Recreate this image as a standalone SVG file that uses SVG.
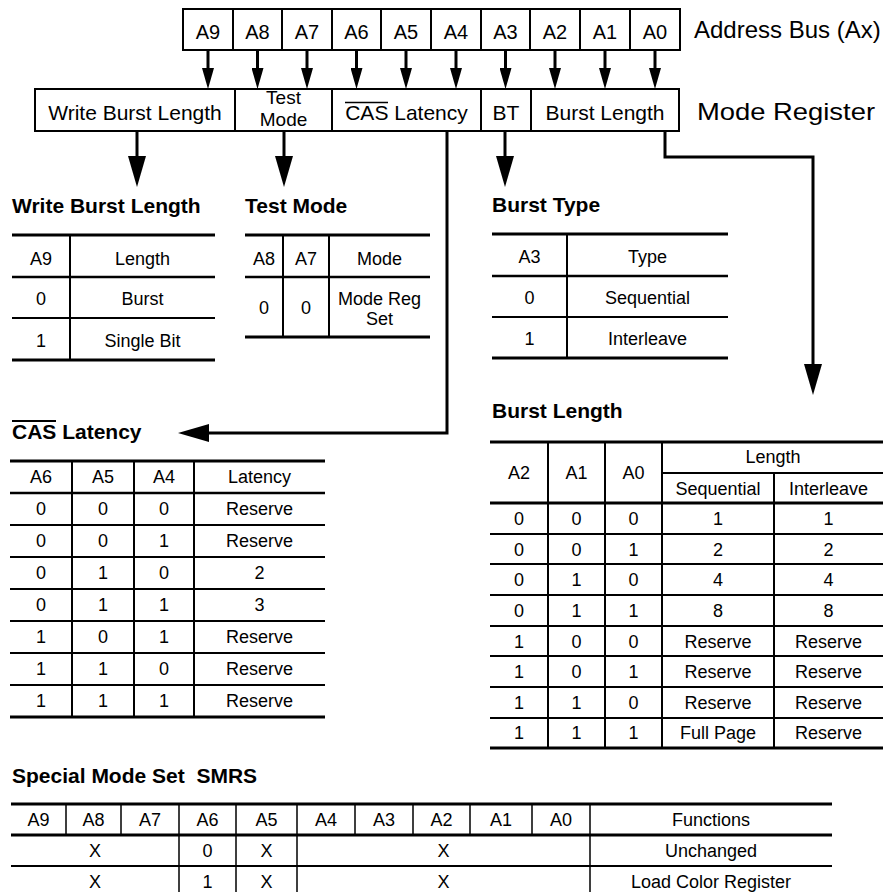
<svg xmlns="http://www.w3.org/2000/svg" width="883" height="892" viewBox="0 0 883 892">
<style>
text{font-family:"Liberation Sans",Arial,Helvetica,sans-serif;fill:#000}
.h{font-weight:bold;font-size:21px}
.c{font-size:18px;text-anchor:middle}
.b{font-size:20px;text-anchor:middle}
.m{font-size:21px;text-anchor:middle}
.m2{font-size:19px;text-anchor:middle}
.lbl{font-size:24px}
.box{fill:#fff;stroke:#000;stroke-width:2}
.k{stroke:#000;stroke-width:3;fill:none}
.md{stroke:#000;stroke-width:2.5;fill:none}
.n{stroke:#000;stroke-width:2;fill:none}
.v{stroke:#000;stroke-width:2;fill:none}
.vs{stroke:#000;stroke-width:1.5;fill:none}
.conn{stroke:#000;stroke-width:3;fill:none}
</style>
<defs>
<marker id="sm" markerUnits="userSpaceOnUse" markerWidth="21" markerHeight="12" refX="10" refY="6" orient="auto"><path d="M0,0 L21,6 L0,12 z" fill="#000"/></marker>
<marker id="bg" markerUnits="userSpaceOnUse" markerWidth="31" markerHeight="18" refX="16" refY="9" orient="auto"><path d="M0,0 L31,9 L0,18 z" fill="#000"/></marker>
</defs>
<rect width="883" height="892" fill="#fff"/>

<g id="address-bus">
<rect class="box" x="183" y="9" width="497" height="41"/>
<path class="n" d="M233,9V50M282,9V50M332,9V50M381,9V50M431,9V50M481,9V50M530,9V50M580,9V50M630,9V50"/>
<text class="b" x="208" y="39">A9</text>
<text class="b" x="257.5" y="39">A8</text>
<text class="b" x="307" y="39">A7</text>
<text class="b" x="356.5" y="39">A6</text>
<text class="b" x="406" y="39">A5</text>
<text class="b" x="456" y="39">A4</text>
<text class="b" x="505.5" y="39">A3</text>
<text class="b" x="555" y="39">A2</text>
<text class="b" x="605" y="39">A1</text>
<text class="b" x="655" y="39">A0</text>
<text class="lbl" x="694" y="38">Address Bus (Ax)</text>
</g>

<g id="mode-register">
<rect class="box" x="35" y="89" width="644" height="42"/>
<path class="n" d="M235,89V131M332,89V131M481,89V131M531,89V131"/>
<text class="m" x="135" y="120">Write Burst Length</text>
<text class="m2" x="283.5" y="104">Test</text>
<text class="m2" x="283.5" y="126">Mode</text>
<text class="m" x="406.5" y="120">CAS Latency</text>
<line x1="345" y1="102.5" x2="388" y2="102.5" stroke="#000" stroke-width="1.5"/>
<text class="m" x="506" y="120">BT</text>
<text class="m" x="605" y="120">Burst Length</text>
<text class="lbl" x="697" y="120" textLength="178" lengthAdjust="spacingAndGlyphs">Mode Register</text>
</g>

<g id="connectors">
<line class="conn" x1="208" y1="50" x2="208" y2="78" marker-end="url(#sm)"/>
<line class="conn" x1="257.5" y1="50" x2="257.5" y2="78" marker-end="url(#sm)"/>
<line class="conn" x1="307" y1="50" x2="307" y2="78" marker-end="url(#sm)"/>
<line class="conn" x1="356.5" y1="50" x2="356.5" y2="78" marker-end="url(#sm)"/>
<line class="conn" x1="406" y1="50" x2="406" y2="78" marker-end="url(#sm)"/>
<line class="conn" x1="456" y1="50" x2="456" y2="78" marker-end="url(#sm)"/>
<line class="conn" x1="505.5" y1="50" x2="505.5" y2="78" marker-end="url(#sm)"/>
<line class="conn" x1="555" y1="50" x2="555" y2="78" marker-end="url(#sm)"/>
<line class="conn" x1="605" y1="50" x2="605" y2="78" marker-end="url(#sm)"/>
<line class="conn" x1="655" y1="50" x2="655" y2="78" marker-end="url(#sm)"/>
<line class="conn" x1="137" y1="131" x2="137" y2="172" marker-end="url(#bg)"/>
<line class="conn" x1="284" y1="131" x2="284" y2="172" marker-end="url(#bg)"/>
<line class="conn" x1="505" y1="131" x2="505" y2="172" marker-end="url(#bg)"/>
<path class="conn" d="M665,131V157H813V380" marker-end="url(#bg)"/>
<path class="conn" d="M447,131V433H193" marker-end="url(#bg)"/>
</g>

<g id="write-burst-length">
<text class="h" x="12" y="213">Write Burst Length</text>
<path class="k" d="M12,235H215M12,360H215"/>
<path class="md" d="M12,277H215"/>
<path class="n" d="M12,318H215"/>
<path class="v" d="M70,235V361"/>
<text class="c" x="41" y="265">A9</text>
<text class="c" x="142.5" y="265">Length</text>
<text class="c" x="41" y="305">0</text>
<text class="c" x="142.5" y="305">Burst</text>
<text class="c" x="41" y="347">1</text>
<text class="c" x="142.5" y="347">Single Bit</text>
</g>

<g id="test-mode">
<text class="h" x="245" y="213">Test Mode</text>
<path class="k" d="M245,235H430M245,337H430"/>
<path class="md" d="M245,277H430"/>
<path class="v" d="M283,235V337M329,235V337"/>
<text class="c" x="264" y="265">A8</text>
<text class="c" x="306" y="265">A7</text>
<text class="c" x="379.5" y="265">Mode</text>
<text class="c" x="264" y="314">0</text>
<text class="c" x="306" y="314">0</text>
<text class="c" x="379.5" y="305">Mode Reg</text>
<text class="c" x="379.5" y="325">Set</text>
</g>

<g id="burst-type">
<text class="h" x="492" y="212">Burst Type</text>
<path class="k" d="M492,234H728M492,358H728"/>
<path class="md" d="M492,276H728"/>
<path class="n" d="M492,317H728"/>
<path class="v" d="M567,234V358"/>
<text class="c" x="529.5" y="263">A3</text>
<text class="c" x="647.5" y="263">Type</text>
<text class="c" x="529.5" y="304">0</text>
<text class="c" x="647.5" y="304">Sequential</text>
<text class="c" x="529.5" y="345">1</text>
<text class="c" x="647.5" y="345">Interleave</text>
</g>

<g id="cas-latency">
<text class="h" x="12" y="439">CAS Latency</text>
<line x1="12" y1="421" x2="56" y2="421" stroke="#000" stroke-width="2"/>
<path class="k" d="M10,461H325M10,717H325"/>
<path class="md" d="M10,493H325"/>
<path class="n" d="M10,525H325M10,557H325M10,589H325M10,621H325M10,653H325M10,685H325"/>
<path class="v" d="M72,461V717M134,461V717M194,461V717"/>
<text class="c" x="41" y="483">A6</text><text class="c" x="103" y="483">A5</text><text class="c" x="164" y="483">A4</text><text class="c" x="259.5" y="483">Latency</text>
<text class="c" x="41" y="515">0</text><text class="c" x="103" y="515">0</text><text class="c" x="164" y="515">0</text><text class="c" x="259.5" y="515">Reserve</text>
<text class="c" x="41" y="547">0</text><text class="c" x="103" y="547">0</text><text class="c" x="164" y="547">1</text><text class="c" x="259.5" y="547">Reserve</text>
<text class="c" x="41" y="579">0</text><text class="c" x="103" y="579">1</text><text class="c" x="164" y="579">0</text><text class="c" x="259.5" y="579">2</text>
<text class="c" x="41" y="611">0</text><text class="c" x="103" y="611">1</text><text class="c" x="164" y="611">1</text><text class="c" x="259.5" y="611">3</text>
<text class="c" x="41" y="643">1</text><text class="c" x="103" y="643">0</text><text class="c" x="164" y="643">1</text><text class="c" x="259.5" y="643">Reserve</text>
<text class="c" x="41" y="675">1</text><text class="c" x="103" y="675">1</text><text class="c" x="164" y="675">0</text><text class="c" x="259.5" y="675">Reserve</text>
<text class="c" x="41" y="707">1</text><text class="c" x="103" y="707">1</text><text class="c" x="164" y="707">1</text><text class="c" x="259.5" y="707">Reserve</text>
</g>

<g id="burst-length">
<text class="h" x="492" y="418">Burst Length</text>
<path class="k" d="M490,442H883M490,503H883M490,748H883"/>
<path class="n" d="M662,473H883"/>
<path class="n" d="M490,534H883M490,564H883M490,595H883M490,626H883M490,656H883M490,687H883M490,718H883"/>
<path class="v" d="M548,442V748M605,442V748M662,442V748M774,473V748"/>
<text class="c" x="519" y="479">A2</text><text class="c" x="576.5" y="479">A1</text><text class="c" x="633.5" y="479">A0</text>
<text class="c" x="773" y="463">Length</text>
<text class="c" x="718" y="495">Sequential</text><text class="c" x="828.5" y="495">Interleave</text>
<text class="c" x="519" y="524.5">0</text><text class="c" x="576.5" y="524.5">0</text><text class="c" x="633.5" y="524.5">0</text><text class="c" x="718" y="524.5">1</text><text class="c" x="828.5" y="524.5">1</text>
<text class="c" x="519" y="555.5">0</text><text class="c" x="576.5" y="555.5">0</text><text class="c" x="633.5" y="555.5">1</text><text class="c" x="718" y="555.5">2</text><text class="c" x="828.5" y="555.5">2</text>
<text class="c" x="519" y="585.5">0</text><text class="c" x="576.5" y="585.5">1</text><text class="c" x="633.5" y="585.5">0</text><text class="c" x="718" y="585.5">4</text><text class="c" x="828.5" y="585.5">4</text>
<text class="c" x="519" y="616.5">0</text><text class="c" x="576.5" y="616.5">1</text><text class="c" x="633.5" y="616.5">1</text><text class="c" x="718" y="616.5">8</text><text class="c" x="828.5" y="616.5">8</text>
<text class="c" x="519" y="647.5">1</text><text class="c" x="576.5" y="647.5">0</text><text class="c" x="633.5" y="647.5">0</text><text class="c" x="718" y="647.5">Reserve</text><text class="c" x="828.5" y="647.5">Reserve</text>
<text class="c" x="519" y="677.5">1</text><text class="c" x="576.5" y="677.5">0</text><text class="c" x="633.5" y="677.5">1</text><text class="c" x="718" y="677.5">Reserve</text><text class="c" x="828.5" y="677.5">Reserve</text>
<text class="c" x="519" y="708.5">1</text><text class="c" x="576.5" y="708.5">1</text><text class="c" x="633.5" y="708.5">0</text><text class="c" x="718" y="708.5">Reserve</text><text class="c" x="828.5" y="708.5">Reserve</text>
<text class="c" x="519" y="739">1</text><text class="c" x="576.5" y="739">1</text><text class="c" x="633.5" y="739">1</text><text class="c" x="718" y="739">Full Page</text><text class="c" x="828.5" y="739">Reserve</text>
</g>

<g id="special-mode-set">
<text class="h" x="12" y="783">Special Mode Set&#160; SMRS</text>
<path class="k" d="M11,804H832M11,835H832"/>
<path class="n" d="M11,866H832"/>
<path class="vs" d="M66,804V835M121,804V835M355,804V835M413,804V835M470,804V835M532,804V835"/>
<path class="vs" d="M179,804V892M236,804V892M297,804V892M590,804V892"/>
<text class="c" x="38.5" y="826">A9</text><text class="c" x="93.5" y="826">A8</text><text class="c" x="150" y="826">A7</text><text class="c" x="207.5" y="826">A6</text><text class="c" x="266.5" y="826">A5</text><text class="c" x="326" y="826">A4</text><text class="c" x="384" y="826">A3</text><text class="c" x="441.5" y="826">A2</text><text class="c" x="501" y="826">A1</text><text class="c" x="561" y="826">A0</text><text class="c" x="711" y="826">Functions</text>
<text class="c" x="95" y="857">X</text><text class="c" x="207.5" y="857">0</text><text class="c" x="266.5" y="857">X</text><text class="c" x="443.5" y="857">X</text><text class="c" x="711" y="857">Unchanged</text>
<text class="c" x="95" y="888">X</text><text class="c" x="207.5" y="888">1</text><text class="c" x="266.5" y="888">X</text><text class="c" x="443.5" y="888">X</text><text class="c" x="711" y="888">Load Color Register</text>
</g>
</svg>
